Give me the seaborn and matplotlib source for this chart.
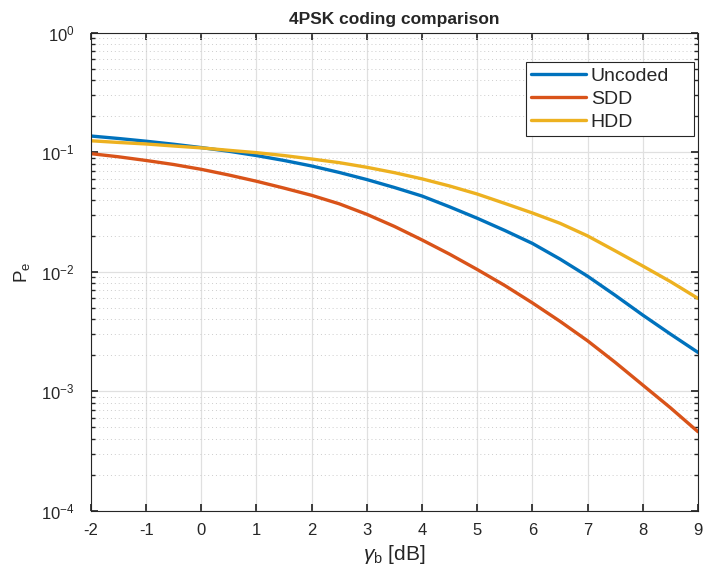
import numpy as np
import pandas as pd
import seaborn as sns
import matplotlib
matplotlib.use("Agg")
import matplotlib.pyplot as plt
from matplotlib.ticker import LogLocator, NullFormatter

# values (every 0.5 dB)
gamma_db = [-2, -1.5, -1, -0.5, 0, 0.5, 1, 1.5, 2, 2.5, 3, 3.5, 4, 4.5, 5, 5.5, 6, 6.5, 7, 7.5, 8, 8.5, 9]
uncoded = [0.137, 0.1306, 0.1239, 0.1169, 0.1096, 0.1021, 0.0940, 0.0855, 0.0769, 0.0679, 0.0592, 0.0508,
           0.0431, 0.0350, 0.0281, 0.0222, 0.0173, 0.0128, 0.0092, 0.00637, 0.00435, 0.00302, 0.00212]
sdd = [0.0975, 0.0918, 0.0855, 0.0791, 0.0721, 0.0646, 0.0573, 0.0502, 0.0437, 0.0371, 0.0303, 0.0240,
       0.0185, 0.01406, 0.01047, 0.00769, 0.0055, 0.00386, 0.00265, 0.00175, 0.00113, 0.00073, 0.00046]
hdd = [0.125, 0.121, 0.1175, 0.113, 0.109, 0.104, 0.0994, 0.094, 0.088, 0.082, 0.075, 0.0676,
       0.060, 0.0523, 0.0448, 0.0374, 0.0311, 0.0255, 0.020, 0.0150, 0.0112, 0.0083, 0.0060]
series = ["Uncoded", "SDD", "HDD"]
colors = ["#0072BD", "#D95319", "#EDB120"]

df = pd.DataFrame({"gamma": gamma_db * 3,
                   "Pe": uncoded + sdd + hdd,
                   "Scheme": np.repeat(series, len(gamma_db))})

sns.set_theme(style="white")
plt.rcParams['font.family'] = ['Liberation Sans', 'DejaVu Sans']
plt.rcParams['mathtext.fontset'] = 'custom'
plt.rcParams['mathtext.rm'] = 'Liberation Sans'
plt.rcParams['mathtext.it'] = 'Liberation Sans:italic'
plt.rcParams['axes.unicode_minus'] = False

fig = plt.figure(figsize=(7.05, 5.76), dpi=100)
ax = fig.add_axes([0.129, 0.113, 0.861, 0.830])
sns.lineplot(data=df, x="gamma", y="Pe", hue="Scheme", hue_order=series,
             palette=colors, linewidth=2.4, ax=ax)
ax.set_yscale("log")
ax.set_xlim(-2, 9)
ax.set_ylim(1e-4, 1)
ax.set_xticks(range(-2, 10))
ax.yaxis.set_major_locator(LogLocator(base=10, numticks=10))
ax.yaxis.set_minor_locator(LogLocator(base=10, subs=np.arange(2, 10), numticks=20))
ax.yaxis.set_minor_formatter(NullFormatter())

ax.grid(True, which="major", color="#e0e0e0", linewidth=0.9)
ax.grid(True, which="minor", axis="y", color="#cccccc", linestyle=(0, (1, 3)), linewidth=0.7)
ax.set_axisbelow(True)
for s in ax.spines.values():
    s.set_color("#262626")
    s.set_linewidth(0.8)
ax.tick_params(which="both", direction="in", top=True, right=True, bottom=True, left=True,
               colors="#262626", labelsize=12)
ax.tick_params(which="major", length=5)
ax.tick_params(which="minor", length=3)
ax.tick_params(axis="x", which="major", pad=9)
ax.tick_params(axis="y", which="major", pad=12)

ax.set_title("4PSK coding comparison", fontsize=12.5, fontweight="bold", pad=6)
ax.set_xlabel(r"$\gamma_\mathregular{b}$ [dB]", fontsize=15, color="#262626", labelpad=3)
ax.set_ylabel(r"P$_\mathregular{e}$", fontsize=13.5, color="#262626", labelpad=6)

leg = ax.legend(loc="upper left", bbox_to_anchor=(0.7166, 0.5, 0.2768, 0.4393), mode="expand",
                borderaxespad=0, fancybox=False, edgecolor="#262626", framealpha=1,
                fontsize=14, handlelength=2.8, handletextpad=0.25, borderpad=0.28,
                labelspacing=0.28)
leg.get_frame().set_linewidth(0.8)

fig.savefig("out.png", dpi=100)
